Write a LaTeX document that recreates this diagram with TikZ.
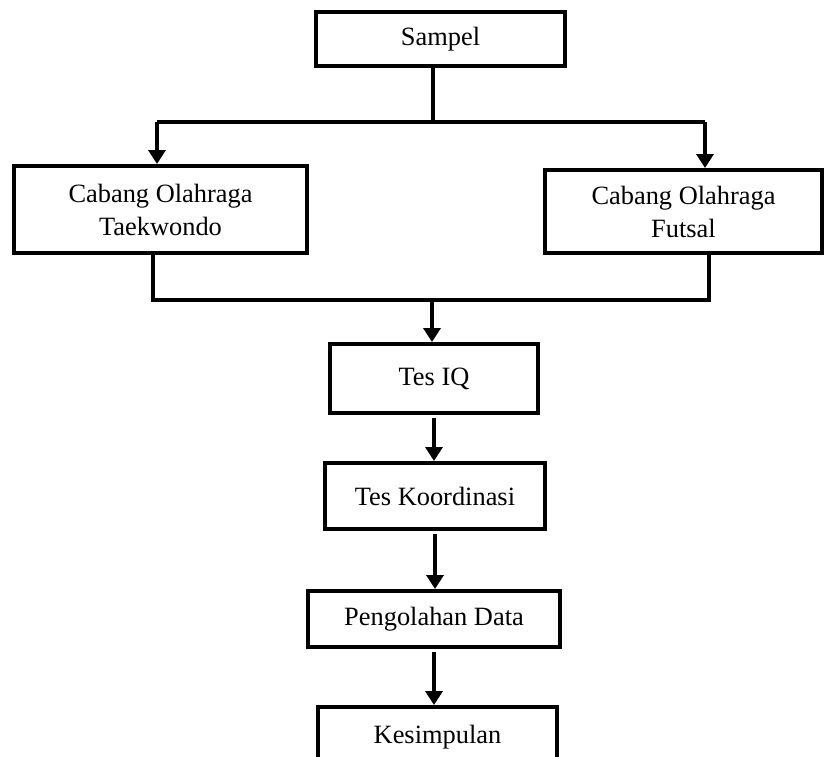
\documentclass[tikz,border=0pt]{standalone}
\usepackage{fontspec}
\setmainfont{Liberation Serif}
\usepackage{tikz}
\usetikzlibrary{arrows.meta}
\usetikzlibrary{shapes}

\begin{document}
\begin{tikzpicture}[x=0.5pt,y=-0.5pt]
\tikzset{font=\fontsize{13.2pt}{16.5pt}\selectfont}
\tikzset{kotak/.style={draw, line width=2pt, inner sep=0pt, align=center}}
\tikzset{garis/.style={line width=1.8pt}}
\tikzset{panah/.style={garis, -{Triangle[width=8.5pt,length=7pt]}}}
\useasboundingbox (0,0) rectangle (825,756);
\node[kotak, minimum width=124.5pt, minimum height=27pt] (sampel) at (440.5,39) {Sampel};
\node[kotak, minimum width=146.5pt, minimum height=43.5pt] (taekwondo) at (160.5,209.5) {Cabang Olahraga\\Taekwondo};
\node[kotak, minimum width=138.5pt, minimum height=41.5pt] (futsal) at (683.5,211.5) {Cabang Olahraga\\Futsal};
\node[kotak, minimum width=104pt, minimum height=34.5pt] (tesiq) at (434,378.5) {Tes IQ};
\node[kotak, minimum width=110pt, minimum height=33pt] (koordinasi) at (435,496) {Tes Koordinasi};
\node[kotak, minimum width=126pt, minimum height=28pt] (pengolahan) at (434,619) {Pengolahan Data};
\node[kotak, minimum width=119.5pt, minimum height=30pt] (kesimpulan) at (437.5,737) {Kesimpulan};
\coordinate (cabang) at (433,122);
\coordinate (kiri) at (157,122);
\coordinate (kanan) at (705,122);
\coordinate (gkiri) at (153,300);
\coordinate (gkanan) at (709,300);
\coordinate (gabung) at (432,300);
\draw[garis] (cabang |- sampel.south) -- (cabang);
\draw[garis] (kiri) -- (kanan);
\draw[panah] (kiri) -- (kiri |- taekwondo.north);
\draw[panah] (kanan) -- (kanan |- futsal.north);
\draw[garis] (gkiri |- taekwondo.south) -- (gkiri) -- (gkanan) -- (gkanan |- futsal.south);
\draw[panah] (gabung) -- (gabung |- tesiq.north);
\draw[panah] ([yshift=-1.5pt]tesiq.south) -- (tesiq.south |- koordinasi.north);
\draw[panah] ([yshift=-1.5pt]koordinasi.south) -- (koordinasi.south |- pengolahan.north);
\draw[panah] ([yshift=-1.5pt]pengolahan.south) -- (pengolahan.south |- kesimpulan.north);
\end{tikzpicture}
\end{document}
